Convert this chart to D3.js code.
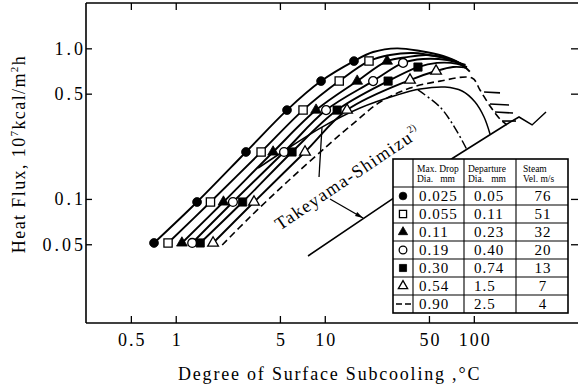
<!DOCTYPE html>
<html>
<head>
<meta charset="utf-8">
<script src="https://cdn.jsdelivr.net/npm/d3@7"></script>
<style>
  body { margin: 0; background: #fff; }
  svg { display: block; font-family: "Liberation Serif", "DejaVu Serif", serif; }
</style>
</head>
<body>
<svg id="chart" width="578" height="391"></svg>
<script>
// axis ticks
const tickX = [0.5, 1, 5, 10, 50, 100];
const tickXLabels = ["0.5", "1", "5", "10", "50", "100"];
const tickY = [0.05, 0.1, 0.5, 1.0];
const tickYLabels = ["0.05", "0.1", "0.5", "1.0"];

// table rows
const maxDropDia = ["0.025", "0.055", "0.11", "0.19", "0.30", "0.54", "0.90"];
const departureDia = ["0.05", "0.11", "0.23", "0.40", "0.74", "1.5", "2.5"];
const steamVel = ["76", "51", "32", "20", "13", "7", "4"];
const symbolKinds = ["circle-f", "square-o", "triangle-f", "circle-o", "square-f", "triangle-o", "dash"];

// measured points [subcooling °C, heat flux 10^7 kcal/m2h]
const pts025 = [[0.715, 0.051], [1.39, 0.0954], [2.96, 0.205], [5.58, 0.389], [9.44, 0.606], [15.7, 0.823]];
const pts055 = [[0.888, 0.051], [1.71, 0.0954], [3.74, 0.205], [7.15, 0.389], [12.5, 0.606], [19.8, 0.823]];
const pts011 = [[1.10, 0.051], [2.09, 0.0954], [4.50, 0.205], [8.74, 0.389], [16.5, 0.606], [26.2, 0.823]];
const pts019 = [[1.29, 0.051], [2.42, 0.0954], [5.33, 0.205], [10.2, 0.389], [21.1, 0.606], [33.5, 0.80]];
const pts030 = [[1.46, 0.051], [2.81, 0.0954], [6.03, 0.205], [12.1, 0.389], [26.6, 0.606], [42.2, 0.751]];
const pts054 = [[1.78, 0.051], [3.35, 0.0954], [7.37, 0.205], [14.1, 0.389], [37.3, 0.616], [55.8, 0.707]];

// where each curve goes after its last point
const tail025 = [[21.1, 0.945], [30.5, 1.0], [43.6, 0.96], [62.2, 0.889], [80, 0.80], [94, 0.70]];
const tail055 = [[27.4, 0.903], [39.1, 0.931], [59.3, 0.875], [77.2, 0.811], [88, 0.74]];
const tail011 = [[35.6, 0.875], [48.5, 0.903], [69.3, 0.849], [86, 0.77]];
const tail019 = [[45.6, 0.849], [66.1, 0.836], [88, 0.775]];
const tail030 = [[56.6, 0.80], [77.2, 0.79], [90, 0.75]];
const tail054 = [[72.5, 0.751], [90, 0.745]];

// 0.90 mm drops, dashed, no markers
const curve090 = [[2.05, 0.0494], [3.15, 0.0758], [5.58, 0.1295], [10.35, 0.2245], [15.96, 0.324],
  [23.5, 0.44], [37.3, 0.545], [59.3, 0.606], [97.3, 0.635], [110, 0.529], [128.4, 0.414],
  [149.9, 0.339], [167.1, 0.31]];

// Takeyama-Shimizu
const takeyamaCurve = [[3.57, 0.1604], [5.85, 0.2212], [9.58, 0.300], [17.24, 0.4015], [30.5, 0.4896],
  [43.6, 0.5366], [64.1, 0.5534], [83.4, 0.5205], [101.9, 0.44], [117.1, 0.3499], [128.4, 0.2698]];
const takeyamaLine = [[7.72, 0.0418], [28.3, 0.0998], [72.5, 0.187], [167.1, 0.3145]];
const dashDotLine = [[42.2, 0.529], [59.3, 0.4076], [74.8, 0.2956], [90.1, 0.2112]];
const zigzag = [[167.1, 0.3145], [201, 0.35], [246, 0.31], [305, 0.378]];
const hatch = [
  [[117.1, 0.513], [149.9, 0.506]],
  [[128.4, 0.427], [172.3, 0.42]],
  [[138.8, 0.378], [183.2, 0.372]],
  [[154.6, 0.329], [191.9, 0.329]]
];
const leaderA = [[9.15, 0.1397], [9.58, 0.30]];
const leaderB = [[10.84, 0.0998], [18.06, 0.0747]];
const labelAt = [5.0, 0.0615];

const series = [
  { pts: pts025, tail: tail025, kind: symbolKinds[0] },
  { pts: pts055, tail: tail055, kind: symbolKinds[1] },
  { pts: pts011, tail: tail011, kind: symbolKinds[2] },
  { pts: pts019, tail: tail019, kind: symbolKinds[3] },
  { pts: pts030, tail: tail030, kind: symbolKinds[4] },
  { pts: pts054, tail: tail054, kind: symbolKinds[5] }
];

const svg = d3.select("#chart");
const x = d3.scaleLog().domain([0.25, 500]).range([86, 578]);
const y = d3.scaleLog().domain([0.015, 2]).range([323, 3]);

const line = d3.line()
  .x((d) => x(d[0]))
  .y((d) => y(d[1]));
const smooth = d3.line()
  .x((d) => x(d[0]))
  .y((d) => y(d[1]))
  .curve(d3.curveCatmullRom.alpha(0.5));

// frame (no right border visible, picture is cropped)
const frame = svg.append("g").attr("stroke", "#000").attr("stroke-width", 1.6);
frame.append("line").attr("x1", x(0.25)).attr("x2", x(500)).attr("y1", y(2)).attr("y2", y(2));
frame.append("line").attr("x1", x(0.25)).attr("x2", x(0.25)).attr("y1", y(2)).attr("y2", y(0.015));
frame.append("line").attr("x1", x(0.25)).attr("x2", x(500)).attr("y1", y(0.015)).attr("y2", y(0.015));

function styleAxis(g, size, spacing) {
  g.attr("font-family", null).attr("font-size", null);
  g.select(".domain").remove();
  g.selectAll(".tick line").attr("stroke", "#000").attr("stroke-width", 1.3);
  g.selectAll(".tick text")
    .attr("fill", "#000")
    .style("font-size", size + "px")
    .style("letter-spacing", spacing + "px");
}

svg.append("g")
  .attr("transform", `translate(0,${y(0.015)})`)
  .call(d3.axisBottom(x).tickValues(tickX).tickSize(-7).tickPadding(10)
    .tickFormat((d, i) => tickXLabels[i]))
  .call((g) => styleAxis(g, 18, 2))
  .selectAll(".tick text").attr("dx", 1);

svg.append("g")
  .attr("transform", `translate(0,${y(2)})`)
  .call(d3.axisTop(x).tickValues(tickX).tickSize(-7).tickFormat(""))
  .call((g) => styleAxis(g, 18, 0));

svg.append("g")
  .attr("transform", `translate(${x(0.25)},0)`)
  .call(d3.axisLeft(y).tickValues(tickY).tickSize(-6).tickPadding(0)
    .tickFormat((d, i) => tickYLabels[i]))
  .call((g) => styleAxis(g, 18, 3));

svg.append("g")
  .attr("transform", `translate(${x(500)},0)`)
  .call(d3.axisRight(y).tickValues(tickY).tickSize(-7).tickFormat(""))
  .call((g) => styleAxis(g, 18, 0));

// axis titles
svg.append("text")
  .attr("x", 178).attr("y", 380)
  .style("font-size", "18px").style("letter-spacing", "1.8px")
  .text("Degree of Surface Subcooling ,°C");

const yt = svg.append("text")
  .attr("transform", "translate(25,154) rotate(-90)")
  .attr("text-anchor", "middle")
  .style("font-size", "18px").style("letter-spacing", "1.4px");
yt.append("tspan").text("Heat Flux, 10");
yt.append("tspan").attr("dy", -7).style("font-size", "11px").text("7");
yt.append("tspan").attr("dy", 7).text("kcal/m");
yt.append("tspan").attr("dy", -7).style("font-size", "11px").text("2");
yt.append("tspan").attr("dy", 7).text("h");

// Takeyama-Shimizu correlation
const plot = svg.append("g").attr("fill", "none").attr("stroke", "#000");
plot.append("path").attr("d", line(takeyamaLine)).attr("stroke-width", 1.6);
plot.append("path").attr("d", line(zigzag)).attr("stroke-width", 1.5);
plot.append("path").attr("d", smooth(takeyamaCurve)).attr("stroke-width", 1.5);
plot.append("path").attr("d", smooth(dashDotLine)).attr("stroke-width", 1.5)
  .attr("stroke-dasharray", "9,3,2,3");
plot.selectAll(".hatch").data(hatch).join("path")
  .attr("class", "hatch")
  .attr("d", (d) => line(d)).attr("stroke-width", 1.6);

// curves
plot.append("path").attr("d", smooth(curve090)).attr("stroke-width", 1.6)
  .attr("stroke-dasharray", "7,4");
plot.selectAll(".series").data(series).join("path")
  .attr("class", "series")
  .attr("d", (d) => smooth(d.pts.concat(d.tail)))
  .attr("stroke-width", 1.9);

// markers
function symbolFor(kind, scale) {
  const s = scale || 1;
  if (kind.startsWith("circle")) return d3.symbol(d3.symbolCircle, 62 * s)();
  if (kind.startsWith("square")) return d3.symbol(d3.symbolSquare, 68 * s)();
  return d3.symbol(d3.symbolTriangle, 50 * s)();
}
function drawMarker(sel, kind, scale) {
  const filled = kind.endsWith("-f");
  sel.append("path")
    .attr("d", symbolFor(kind, scale))
    .attr("fill", filled ? "#000" : "#fff")
    .attr("stroke", "#000")
    .attr("stroke-width", filled ? 0.8 : 1.3);
}

series.forEach((s) => {
  svg.append("g").selectAll("g").data(s.pts).join("g")
    .attr("transform", (d) => `translate(${x(d[0])},${y(d[1])})`)
    .each(function () { drawMarker(d3.select(this), s.kind, 1); });
});

// leaders
plot.append("path").attr("d", line(leaderA)).attr("stroke-width", 1.3);
plot.append("path").attr("d", line(leaderB)).attr("stroke-width", 1.3);
const ax0 = x(leaderB[0][0]), ay0 = y(leaderB[0][1]);
const ax1 = x(leaderB[1][0]), ay1 = y(leaderB[1][1]);
const ang = Math.atan2(ay1 - ay0, ax1 - ax0) * 180 / Math.PI;
svg.append("path")
  .attr("d", "M0,0 L-8,-2.2 L-8,2.2 Z")
  .attr("transform", `translate(${ax1},${ay1}) rotate(${ang})`)
  .attr("fill", "#000");

const lab = svg.append("text")
  .attr("transform", `translate(${x(labelAt[0])},${y(labelAt[1])}) rotate(-34)`)
  .style("font-size", "18px").style("letter-spacing", "1.4px");
lab.append("tspan").text("Takeyama-Shimizu");
lab.append("tspan").attr("dy", -8).style("font-size", "10px").style("letter-spacing", "0px").text("2)");

// table
const colX = [393, 413, 464, 516, 568];
const rowY = [159, 187, 205, 223, 241, 259, 277, 295, 313];
const tb = svg.append("g");
tb.append("rect")
  .attr("x", colX[0]).attr("y", rowY[0])
  .attr("width", colX[4] - colX[0]).attr("height", rowY[8] - rowY[0])
  .attr("fill", "#fff").attr("stroke", "#000").attr("stroke-width", 1.6);
tb.selectAll(".vl").data(colX.slice(1, 4)).join("line")
  .attr("x1", (d) => d).attr("x2", (d) => d)
  .attr("y1", rowY[0]).attr("y2", rowY[8])
  .attr("stroke", "#000").attr("stroke-width", 1.1);
tb.selectAll(".hl").data(rowY.slice(1, 8)).join("line")
  .attr("x1", colX[0]).attr("x2", colX[4])
  .attr("y1", (d) => d).attr("y2", (d) => d)
  .attr("stroke", "#000").attr("stroke-width", 1.1);

const head = [["Max. Drop", "Dia.\u00a0\u00a0 mm"], ["Departure", "Dia.\u00a0\u00a0 mm"], ["Steam", "Vel. m/s"]];
head.forEach((h, i) => {
  const hx = i === 2 ? colX[3] + 7 : colX[i + 1] + 4;
  const t = tb.append("text")
    .attr("x", hx)
    .attr("y", rowY[0] + 13)
    .style("font-size", "9.5px");
  t.append("tspan").text(h[0]);
  t.append("tspan").attr("x", hx).attr("dy", 10).text(h[1]);
});

maxDropDia.forEach((v, i) => {
  const top = rowY[i + 1];
  const cy = (rowY[i + 1] + rowY[i + 2]) / 2;
  const kind = symbolKinds[i];
  if (kind === "dash") {
    tb.append("line")
      .attr("x1", colX[0] + 3).attr("x2", colX[1] - 2)
      .attr("y1", cy).attr("y2", cy)
      .attr("stroke", "#000").attr("stroke-width", 1.6)
      .attr("stroke-dasharray", "6,3");
  } else {
    const g = tb.append("g").attr("transform", `translate(${(colX[0] + colX[1]) / 2},${cy})`);
    drawMarker(g, kind, 0.75);
  }
  tb.append("text").attr("x", colX[1] + 6).attr("y", top + 14)
    .style("font-size", "15px").style("letter-spacing", "1px").text(v);
  tb.append("text").attr("x", colX[2] + 10).attr("y", top + 14)
    .style("font-size", "15px").style("letter-spacing", "1px").text(departureDia[i]);
  tb.append("text").attr("x", (colX[3] + colX[4]) / 2 + 1).attr("y", top + 14)
    .attr("text-anchor", "middle")
    .style("font-size", "15px").style("letter-spacing", "1px").text(steamVel[i]);
});
</script>
</body>
</html>
